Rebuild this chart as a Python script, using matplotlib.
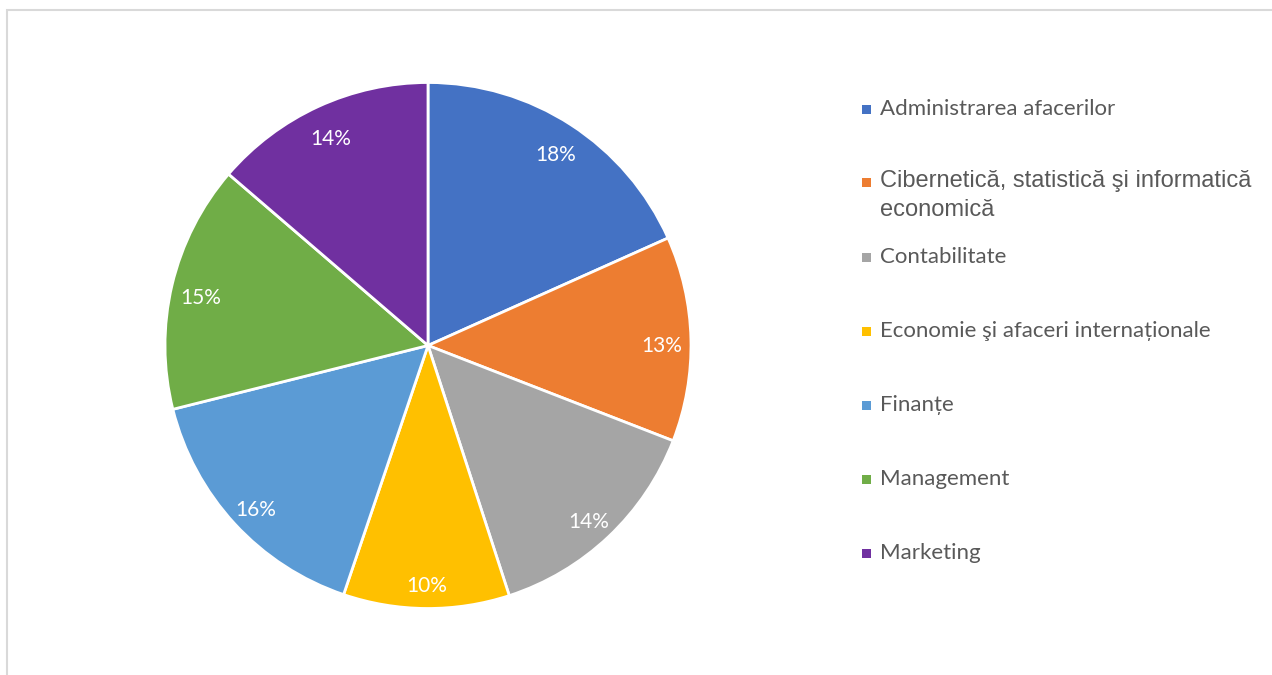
import matplotlib.pyplot as plt
from matplotlib.patches import Rectangle
from matplotlib.transforms import ScaledTranslation

categories = [
    "Administrarea afacerilor",
    "Cibernetică, statistică şi informatică\neconomică",
    "Contabilitate",
    "Economie şi afaceri internaționale",
    "Finanțe",
    "Management",
    "Marketing",
]
# shares in percent
shares = [18.3, 12.6, 14.1, 10.2, 15.9, 15.2, 13.7]
colors = ["#4472C4", "#ED7D31", "#A5A5A5", "#FFC000", "#5B9BD5", "#70AD47", "#7030A0"]

W, H = 1272, 675
fig = plt.figure(figsize=(W / 100, H / 100), dpi=100)
fig.patch.set_facecolor("white")

# light chart-area frame
fig.patches.append(Rectangle((7 / W, -0.05), 1.1, 1 - 10 / H + 0.05, transform=fig.transFigure,
                             fill=False, edgecolor="#D9D9D9", linewidth=1.5))

cx, cy, r = 428, H - 345.5, 263
ax = fig.add_axes([(cx - r) / W, (cy - r) / H, 2 * r / W, 2 * r / H])
wedges, texts, pcts = ax.pie(shares, colors=colors, startangle=90, counterclock=False, radius=1,
                             autopct="%1.0f%%", pctdistance=0.89,
                             wedgeprops=dict(edgecolor="white", linewidth=2),
                             textprops=dict(color="white", fontsize=15, family=["Lato", "DejaVu Sans"]))
# Excel sits the labels a touch lower
for t in pcts:
    t.set_transform(t.get_transform() + ScaledTranslation(0, -6 / 100, fig.dpi_scale_trans))
ax.set_xlim(-1, 1)
ax.set_ylim(-1, 1)
ax.set_aspect("equal")
ax.axis("off")

# legend drawn by hand to get the uneven row layout
rows_y = [109, 182, 257, 331, 405, 479, 553]
for label, col, y in zip(categories, colors, rows_y):
    fig.patches.append(Rectangle((862 / W, (H - y - 5) / H), 9 / W, 9 / H,
                                 transform=fig.transFigure, facecolor=col, edgecolor="none"))
    if "\n" in label:
        fig.text(880 / W, (H - y + 12) / H, label, ha="left", va="top", fontsize=17,
                 color="#595959", family=["Liberation Sans", "DejaVu Sans"],
                 linespacing=1.4)
    else:
        fig.text(880 / W, (H - y) / H, label, ha="left", va="center", fontsize=16,
                 color="#595959", family=["Lato", "DejaVu Sans"])

fig.savefig("out.png", dpi=100)
